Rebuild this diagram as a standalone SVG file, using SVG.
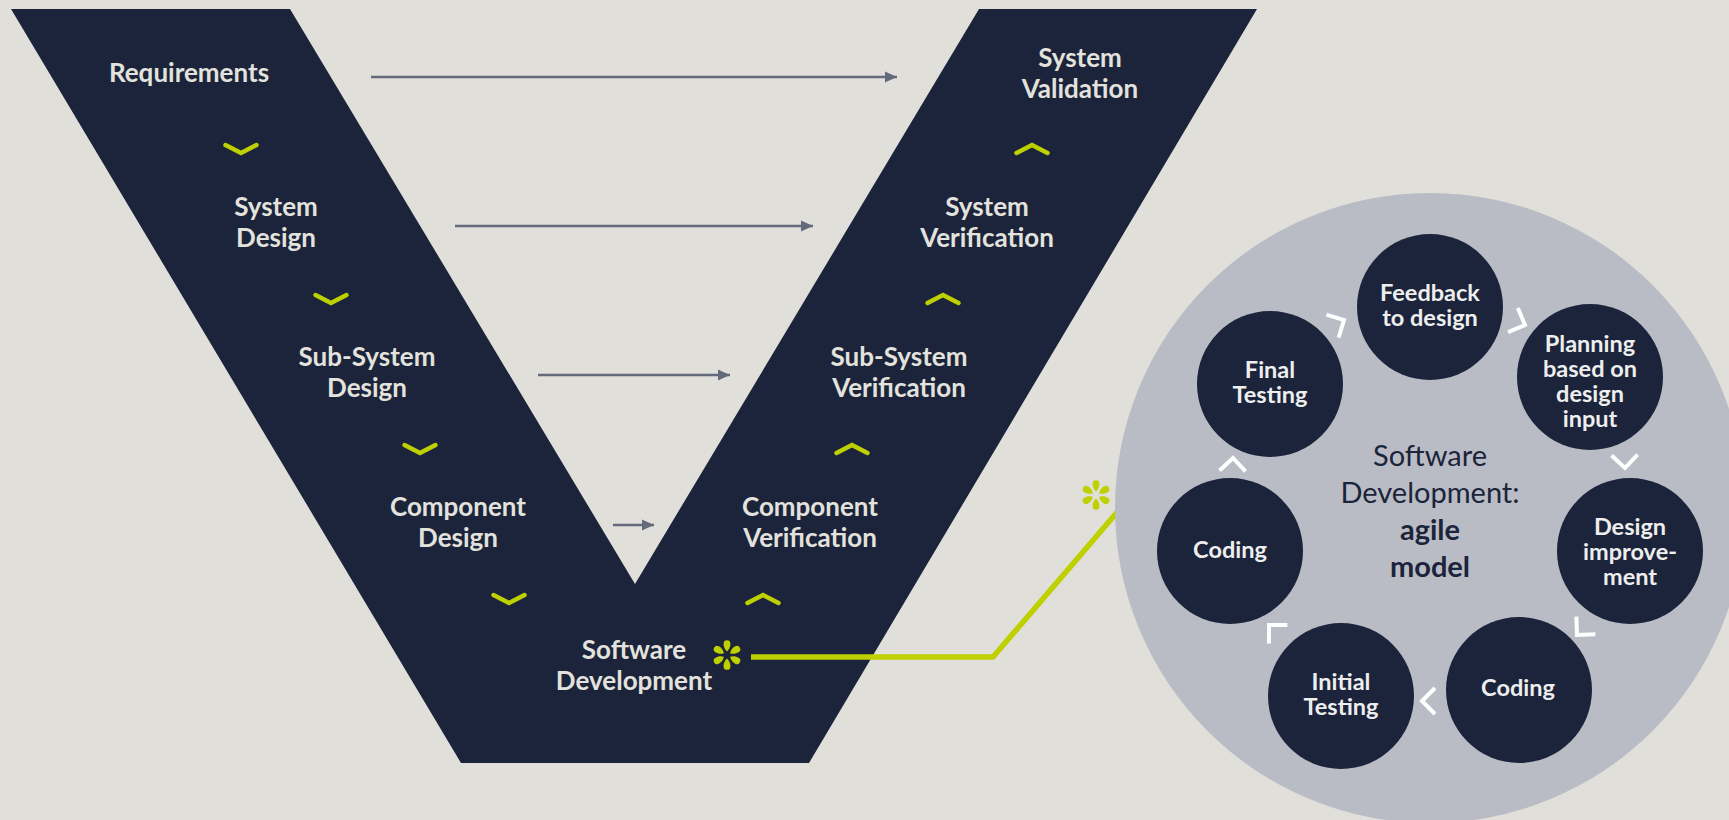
<svg xmlns="http://www.w3.org/2000/svg" width="1729" height="820" viewBox="0 0 1729 820">
  <style>
    .bg { fill: #e0dfda; }
    .navy { fill: #1b243b; }
    .vlabel { font-family: Lato, "Liberation Sans", sans-serif; font-weight: 700; font-size: 26px; fill: #e3e2dd; text-anchor: middle; }
    .clabel { font-family: Lato, "Liberation Sans", sans-serif; font-weight: 700; font-size: 23.5px; fill: #eeeeee; text-anchor: middle; }
    .center { font-family: Lato, "Liberation Sans", sans-serif; font-size: 29px; fill: #1b243b; text-anchor: middle; }
    .center-b { font-weight: 700; }
    .step { fill: none; stroke: #bed000; stroke-width: 4.5; stroke-linecap: round; stroke-linejoin: miter; }
    .cycle { fill: none; stroke: #ffffff; stroke-width: 4; stroke-linecap: butt; stroke-linejoin: miter; }
    .trace { fill: none; stroke: #636a7b; stroke-width: 2.5; marker-end: url(#arrowhead); }
    .link { fill: none; stroke: #bed000; stroke-width: 5.5; stroke-linejoin: miter; }
    .agile-bg { fill: #b9bcc4; }
  </style>
  <defs>
    <marker id="arrowhead" markerUnits="userSpaceOnUse" markerWidth="13" markerHeight="12" refX="12" refY="6" orient="auto">
      <path d="M0,0.5 L12,6 L0,11.5 Z" fill="#636a7b"/>
    </marker>
    <path id="chev-down" class="step" d="M-15.5,-4 L0,4 L15.5,-4"/>
    <path id="chev-up" class="step" d="M-15.5,4 L0,-4 L15.5,4"/>
    <path id="chev-cycle" class="cycle" d="M-13,-13 L0,0 L-13,13"/>
    <!-- one teardrop petal of the spark mark, pointing up -->
    <path id="petal" d="M0,-3.6 C2.4,-5.4 3.6,-9 3.4,-11.4 A3.4,3.4 0 0 0 -3.4,-11.4 C-3.6,-9 -2.4,-5.4 0,-3.6 Z" fill="#bed000"/>
    <g id="spark">
      <use href="#petal"/>
      <use href="#petal" transform="rotate(60)"/>
      <use href="#petal" transform="rotate(120)"/>
      <use href="#petal" transform="rotate(180)"/>
      <use href="#petal" transform="rotate(240)"/>
      <use href="#petal" transform="rotate(300)"/>
    </g>
  </defs>

  <rect class="bg" x="0" y="0" width="1729" height="820"/>

  <!-- V model band -->
  <g id="v-shape">
    <polygon class="navy" points="11,9 290,9 635,584 979,9 1257,9 809,763 461,763"/>
  </g>

  <!-- step chevrons along both arms -->
  <g id="v-steps">
    <use href="#chev-down" x="241" y="149"/>
    <use href="#chev-down" x="331" y="299"/>
    <use href="#chev-down" x="420" y="449"/>
    <use href="#chev-down" x="509" y="599"/>
    <use href="#chev-up" x="1032" y="149"/>
    <use href="#chev-up" x="943" y="299"/>
    <use href="#chev-up" x="852" y="449"/>
    <use href="#chev-up" x="763" y="599"/>
  </g>

  <g id="connectors">
    <line class="trace" x1="371" y1="77" x2="897" y2="77"/>
    <line class="trace" x1="455" y1="226" x2="813" y2="226"/>
    <line class="trace" x1="538" y1="375" x2="730" y2="375"/>
    <line class="trace" x1="613" y1="525" x2="654" y2="525"/>
    <polyline class="link" points="751,657 993,657 1125,503"/>
  </g>

  <!-- left arm -->
  <g id="requirements"><text class="vlabel" x="189" y="82">Requirements</text></g>
  <g id="system-design"><text class="vlabel" x="276" y="216">System</text><text class="vlabel" x="276" y="247">Design</text></g>
  <g id="subsystem-design"><text class="vlabel" x="367" y="366">Sub-System</text><text class="vlabel" x="367" y="397">Design</text></g>
  <g id="component-design"><text class="vlabel" x="458" y="516">Component</text><text class="vlabel" x="458" y="547">Design</text></g>
  <g id="software-development">
    <text class="vlabel" x="634" y="659">Software</text><text class="vlabel" x="634" y="690">Development</text>
    <use href="#spark" x="727" y="655"/>
  </g>

  <!-- right arm -->
  <g id="system-validation"><text class="vlabel" x="1080" y="67">System</text><text class="vlabel" x="1080" y="98">Validation</text></g>
  <g id="system-verification"><text class="vlabel" x="987" y="216">System</text><text class="vlabel" x="987" y="247">Verification</text></g>
  <g id="subsystem-verification"><text class="vlabel" x="899" y="366">Sub-System</text><text class="vlabel" x="899" y="397">Verification</text></g>
  <g id="component-verification"><text class="vlabel" x="810" y="516">Component</text><text class="vlabel" x="810" y="547">Verification</text></g>

  <!-- agile cycle detail -->
  <g id="agile-model">
    <circle class="agile-bg" cx="1430" cy="508" r="315"/>
    <use href="#spark" x="1096" y="495"/>
    <text class="center" x="1430" y="466">Software</text>
    <text class="center" x="1430" y="503">Development:</text>
    <text class="center center-b" x="1430" y="540">agile</text>
    <text class="center center-b" x="1430" y="577">model</text>

    <g id="cycle-arrows">
      <use href="#chev-cycle" transform="translate(1344,320) rotate(-28)"/>
      <use href="#chev-cycle" transform="translate(1525,325) rotate(22)"/>
      <use href="#chev-cycle" transform="translate(1625,468) rotate(88)"/>
      <use href="#chev-cycle" transform="translate(1577,635) rotate(133)"/>
      <use href="#chev-cycle" transform="translate(1422,701) rotate(180)"/>
      <use href="#chev-cycle" transform="translate(1269,625) rotate(225)"/>
      <use href="#chev-cycle" transform="translate(1233,458) rotate(-88)"/>
    </g>
  </g>

  <g id="feedback">
    <circle class="navy" cx="1430" cy="307" r="73"/>
    <text class="clabel" x="1430" y="301">Feedback</text>
    <text class="clabel" x="1430" y="326">to design</text>
  </g>
  <g id="planning">
    <circle class="navy" cx="1590" cy="377" r="73"/>
    <text class="clabel" x="1590" y="352">Planning</text>
    <text class="clabel" x="1590" y="377">based on</text>
    <text class="clabel" x="1590" y="402">design</text>
    <text class="clabel" x="1590" y="427">input</text>
  </g>
  <g id="design-improvement">
    <circle class="navy" cx="1630" cy="551" r="73"/>
    <text class="clabel" x="1630" y="535">Design</text>
    <text class="clabel" x="1630" y="560">improve-</text>
    <text class="clabel" x="1630" y="585">ment</text>
  </g>
  <g id="coding-1">
    <circle class="navy" cx="1519" cy="690" r="73"/>
    <text class="clabel" x="1518" y="696">Coding</text>
  </g>
  <g id="initial-testing">
    <circle class="navy" cx="1341" cy="696" r="73"/>
    <text class="clabel" x="1341" y="690">Initial</text>
    <text class="clabel" x="1341" y="715">Testing</text>
  </g>
  <g id="coding-2">
    <circle class="navy" cx="1230" cy="551" r="73"/>
    <text class="clabel" x="1230" y="558">Coding</text>
  </g>
  <g id="final-testing">
    <circle class="navy" cx="1270" cy="384" r="73"/>
    <text class="clabel" x="1270" y="378">Final</text>
    <text class="clabel" x="1270" y="403">Testing</text>
  </g>
</svg>
